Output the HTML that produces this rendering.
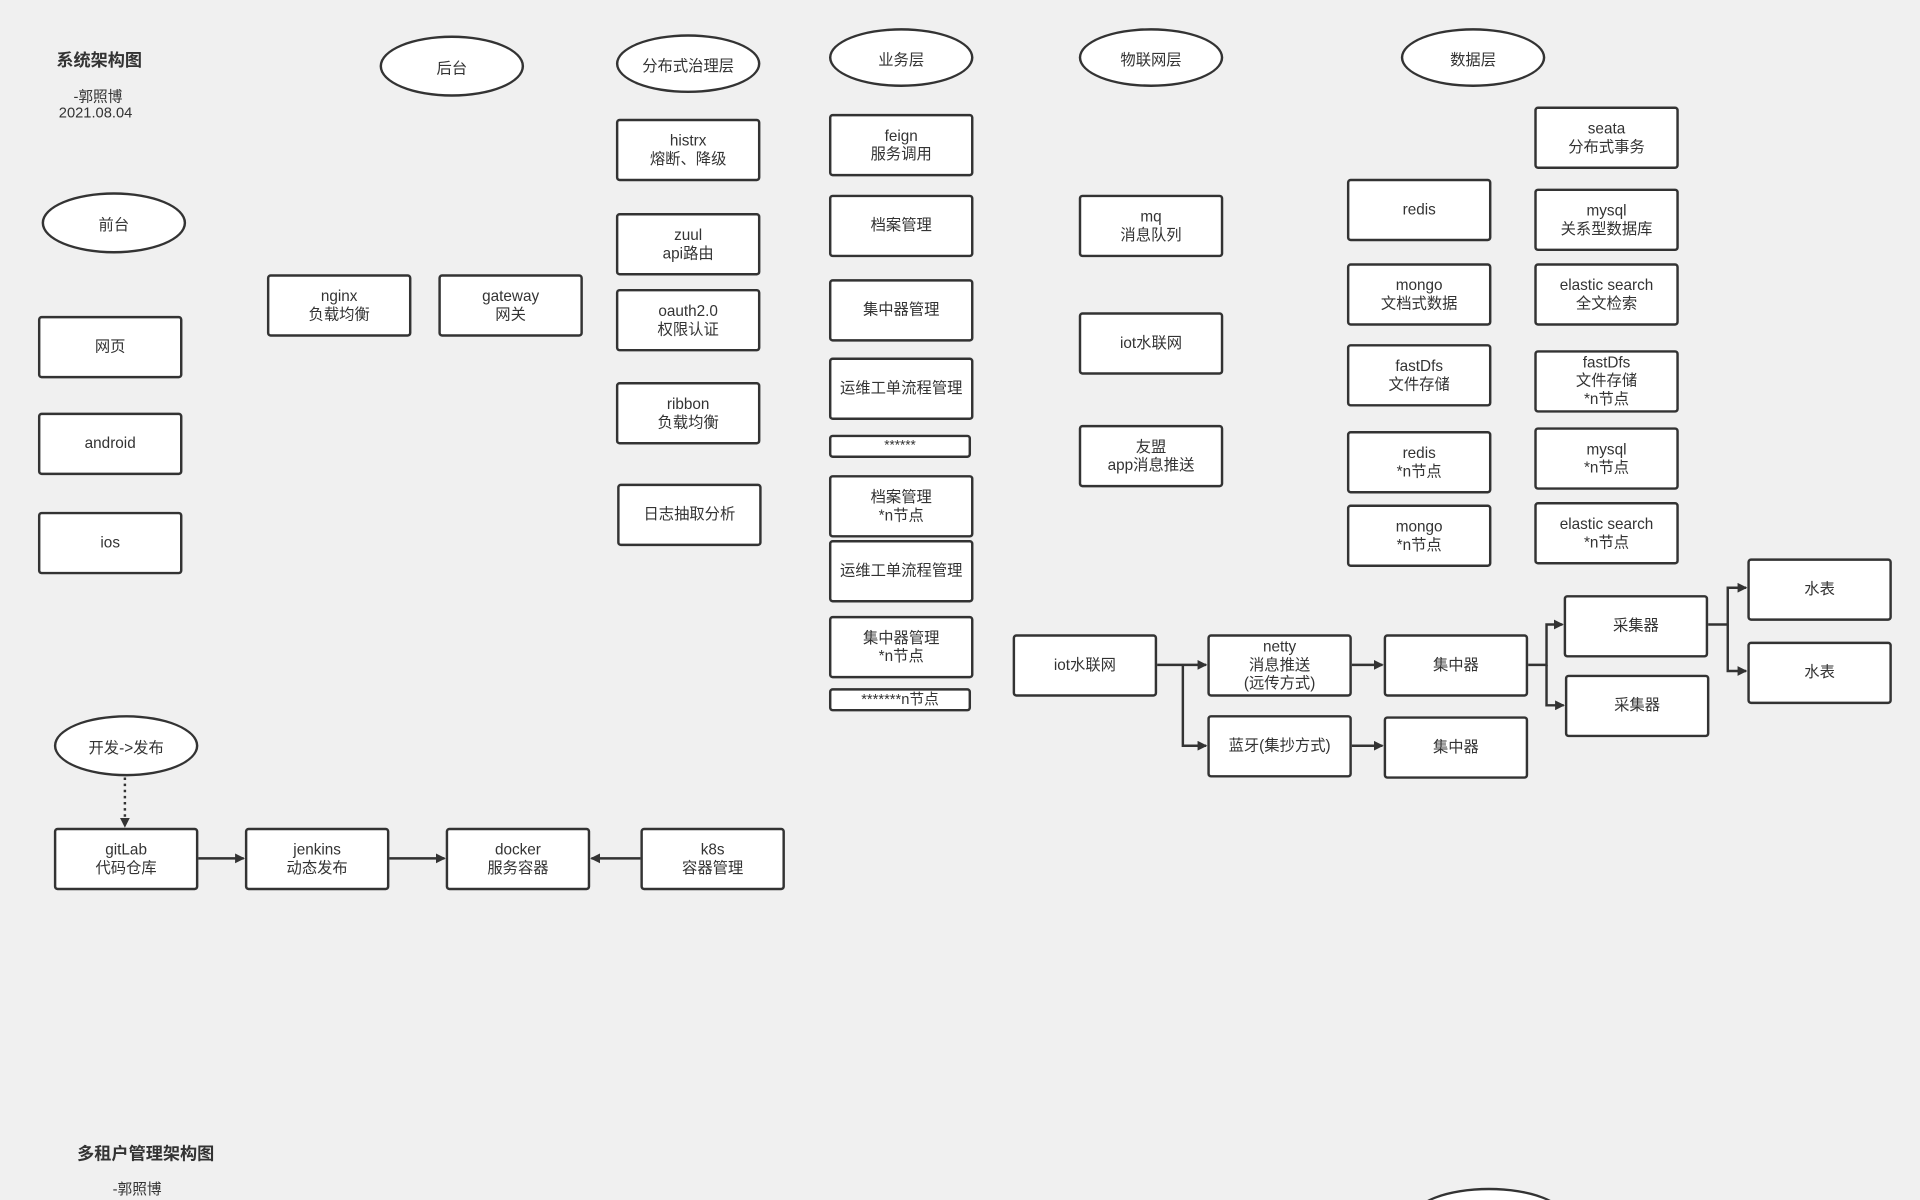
<!DOCTYPE html>
<html><head><meta charset="utf-8"><style>
html,body{margin:0;padding:0;background:#f0f0f0;width:1920px;height:1200px;overflow:hidden}
#w{position:relative;width:1920px;height:1200px;overflow:hidden}
#c{position:absolute;left:0;top:0;width:1568px;height:980px;overflow:hidden;transform:scale(1.22449);transform-origin:0 0;font-family:"Liberation Sans","Noto Sans CJK SC",sans-serif;color:#333}
.b{position:absolute;box-sizing:border-box;background:#fff;border:2px solid #333;border-radius:3px;display:flex;align-items:center;justify-content:center;text-align:center;font-size:12.5px;line-height:15px;width:118px;height:51px}
.e{position:absolute;box-sizing:border-box;background:#fff;border:2px solid #333;border-radius:50%;display:flex;align-items:center;justify-content:center;font-size:12.5px;width:118px;height:50px}
.t{position:absolute;font-size:12px;white-space:nowrap}
svg{position:absolute;left:0;top:0}
</style></head><body><div id="w"><div id="c">
<div class="t" style="left:46px;top:39px;font-size:14px;font-weight:bold">系统架构图</div>
<div class="t" style="left:60px;top:70px">-郭照博</div>
<div class="t" style="left:48px;top:85px">2021.08.04</div>
<div class="t" style="left:63px;top:932px;font-size:14px;font-weight:bold">多租户管理架构图</div>
<div class="t" style="left:92px;top:962px">-郭照博</div>

<div class="e" style="left:310px;top:29px">后台</div>
<div class="e" style="left:503px;top:28px;height:48px">分布式治理层</div>
<div class="e" style="left:677px;top:23px;height:48px">业务层</div>
<div class="e" style="left:881px;top:23px;height:48px">物联网层</div>
<div class="e" style="left:1144px;top:23px;height:48px">数据层</div>
<div class="e" style="left:34px;top:157px">前台</div>
<div class="e" style="left:44px;top:584px">开发-&gt;发布</div>
<div class="e" style="left:1153px;top:970px;width:126px;height:50px"></div>

<div class="b" style="left:31px;top:258px">网页</div>
<div class="b" style="left:31px;top:337px">android</div>
<div class="b" style="left:31px;top:418px">ios</div>
<div class="b" style="left:218px;top:224px">nginx<br>负载均衡</div>
<div class="b" style="left:358px;top:224px">gateway<br>网关</div>

<div class="b" style="left:503px;top:97px">histrx<br>熔断、降级</div>
<div class="b" style="left:503px;top:174px">zuul<br>api路由</div>
<div class="b" style="left:503px;top:236px">oauth2.0<br>权限认证</div>
<div class="b" style="left:503px;top:312px">ribbon<br>负载均衡</div>
<div class="b" style="left:504px;top:395px">日志抽取分析</div>

<div class="b" style="left:677px;top:93px">feign<br>服务调用</div>
<div class="b" style="left:677px;top:159px">档案管理</div>
<div class="b" style="left:677px;top:228px">集中器管理</div>
<div class="b" style="left:677px;top:292px">运维工单流程管理</div>
<div class="b" style="left:677px;top:355px;width:116px;height:19px;font-size:11px">******</div>
<div class="b" style="left:677px;top:388px">档案管理<br>*n节点</div>
<div class="b" style="left:677px;top:441px">运维工单流程管理</div>
<div class="b" style="left:677px;top:503px">集中器管理<br>*n节点</div>
<div class="b" style="left:677px;top:562px;width:116px;height:19px;font-size:12px">*******n节点</div>

<div class="b" style="left:881px;top:159px">mq<br>消息队列</div>
<div class="b" style="left:881px;top:255px">iot水联网</div>
<div class="b" style="left:881px;top:347px">友盟<br>app消息推送</div>

<div class="b" style="left:1100px;top:146px">redis</div>
<div class="b" style="left:1100px;top:215px">mongo<br>文档式数据</div>
<div class="b" style="left:1100px;top:281px">fastDfs<br>文件存储</div>
<div class="b" style="left:1100px;top:352px">redis<br>*n节点</div>
<div class="b" style="left:1100px;top:412px">mongo<br>*n节点</div>

<div class="b" style="left:1253px;top:87px">seata<br>分布式事务</div>
<div class="b" style="left:1253px;top:154px">mysql<br>关系型数据库</div>
<div class="b" style="left:1253px;top:215px">elastic search<br>全文检索</div>
<div class="b" style="left:1253px;top:286px">fastDfs<br>文件存储<br>*n节点</div>
<div class="b" style="left:1253px;top:349px">mysql<br>*n节点</div>
<div class="b" style="left:1253px;top:410px">elastic search<br>*n节点</div>

<div class="b" style="left:827px;top:518px">iot水联网</div>
<div class="b" style="left:986px;top:518px">netty<br>消息推送<br>(远传方式)</div>
<div class="b" style="left:986px;top:584px">蓝牙(集抄方式)</div>
<div class="b" style="left:1130px;top:518px">集中器</div>
<div class="b" style="left:1130px;top:585px">集中器</div>
<div class="b" style="left:1277px;top:486px">采集器</div>
<div class="b" style="left:1278px;top:551px">采集器</div>
<div class="b" style="left:1427px;top:456px">水表</div>
<div class="b" style="left:1427px;top:524px">水表</div>

<div class="b" style="left:44px;top:676px">gitLab<br>代码仓库</div>
<div class="b" style="left:200px;top:676px">jenkins<br>动态发布</div>
<div class="b" style="left:364px;top:676px">docker<br>服务容器</div>
<div class="b" style="left:523px;top:676px">k8s<br>容器管理</div>

<svg width="1568" height="980" viewBox="0 0 1568 980">
<defs><marker id="a" markerWidth="8" markerHeight="8" refX="7" refY="4" orient="auto" markerUnits="userSpaceOnUse"><path d="M0,0 L8,4 L0,8 z" fill="#333"/></marker></defs>
<g stroke="#333" stroke-width="2" fill="none">
<path d="M945,543 H985" marker-end="url(#a)"/>
<path d="M966,543 V609 H985" marker-end="url(#a)"/>
<path d="M1104,543 H1129" marker-end="url(#a)"/>
<path d="M1104,609 H1129" marker-end="url(#a)"/>
<path d="M1248,543 H1263 V510 H1276" marker-end="url(#a)"/>
<path d="M1263,543 V576 H1277" marker-end="url(#a)"/>
<path d="M1395,510 H1411 V480 H1426" marker-end="url(#a)"/>
<path d="M1411,510 V548 H1426" marker-end="url(#a)"/>
<path d="M162,701 H199" marker-end="url(#a)"/>
<path d="M318,701 H363" marker-end="url(#a)"/>
<path d="M523,701 H483" marker-end="url(#a)"/>
<path d="M102,635 V675" stroke-dasharray="2,3" marker-end="url(#a)"/>
</g></svg>
</div></div></body></html>
